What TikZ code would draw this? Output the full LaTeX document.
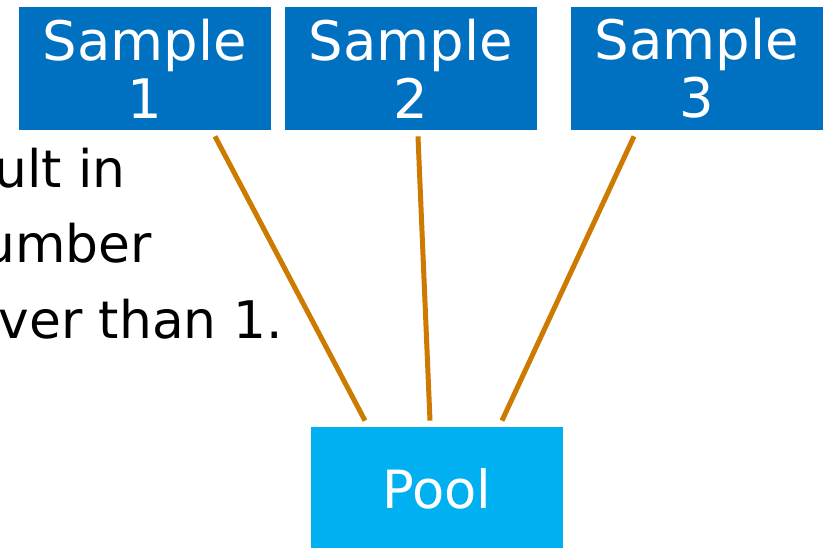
\documentclass[tikz,border=0pt]{standalone}
\usepackage{fontspec}
\setmainfont{DejaVu Sans}
\usetikzlibrary{calc}
\definecolor{sampleblue}{RGB}{0,112,192}
\definecolor{poolblue}{RGB}{0,176,240}
\definecolor{linkorange}{RGB}{204,122,0}
\tikzstyle{samplebox}=[fill=sampleblue,text=white,minimum width=5.04cm,minimum height=2.46cm,inner sep=0pt,align=center,font=\fontsize{31}{33}\selectfont]
\tikzstyle{poolbox}=[fill=poolblue,text=white,minimum width=5.04cm,minimum height=2.46cm,inner sep=0pt,font=\fontsize{30}{33}\selectfont]
\tikzstyle{bodytext}=[inner sep=0pt,anchor=base east,font=\fontsize{29.5}{33}\selectfont]
\tikzstyle{link}=[draw=linkorange,line width=0.1cm]
\newcommand{\drawlink}[4]{
% from node #1 (x offset #2) down to node #3 (x offset #4)
\draw[link] ([xshift=#2,yshift=-0.12cm]#1.south) -- ([xshift=#4,yshift=0.12cm]#3.north);
}

\begin{document}
\begin{tikzpicture}[x=0.02cm,y=-0.02cm]
	\useasboundingbox (0,0) rectangle (823,548);
	\clip (0,0) rectangle (823,548);
	\node[samplebox] (s1) at (145,68.5) {Sample\\1};
	\node[samplebox] (s2) at (411,68.5) {Sample\\2};
	\node[samplebox] (s3) at (697,68.5) {Sample\\3};
	\node[poolbox] (pool) at (437,488.5) {Pool};
	%\node at (0,0) {};
	\node[bodytext] (linea) at (126,187) {ult in};
	\node[bodytext] (lineb) at (152,262) {umber};
	\node[bodytext] (linec) at (283,338) {ver than 1.};
	\drawlink{s1}{1.4cm}{pool}{-1.44cm}
	\drawlink{s2}{0.14cm}{pool}{-0.14cm}
	\drawlink{s3}{-1.26cm}{pool}{1.3cm}
\end{tikzpicture}
\end{document}
